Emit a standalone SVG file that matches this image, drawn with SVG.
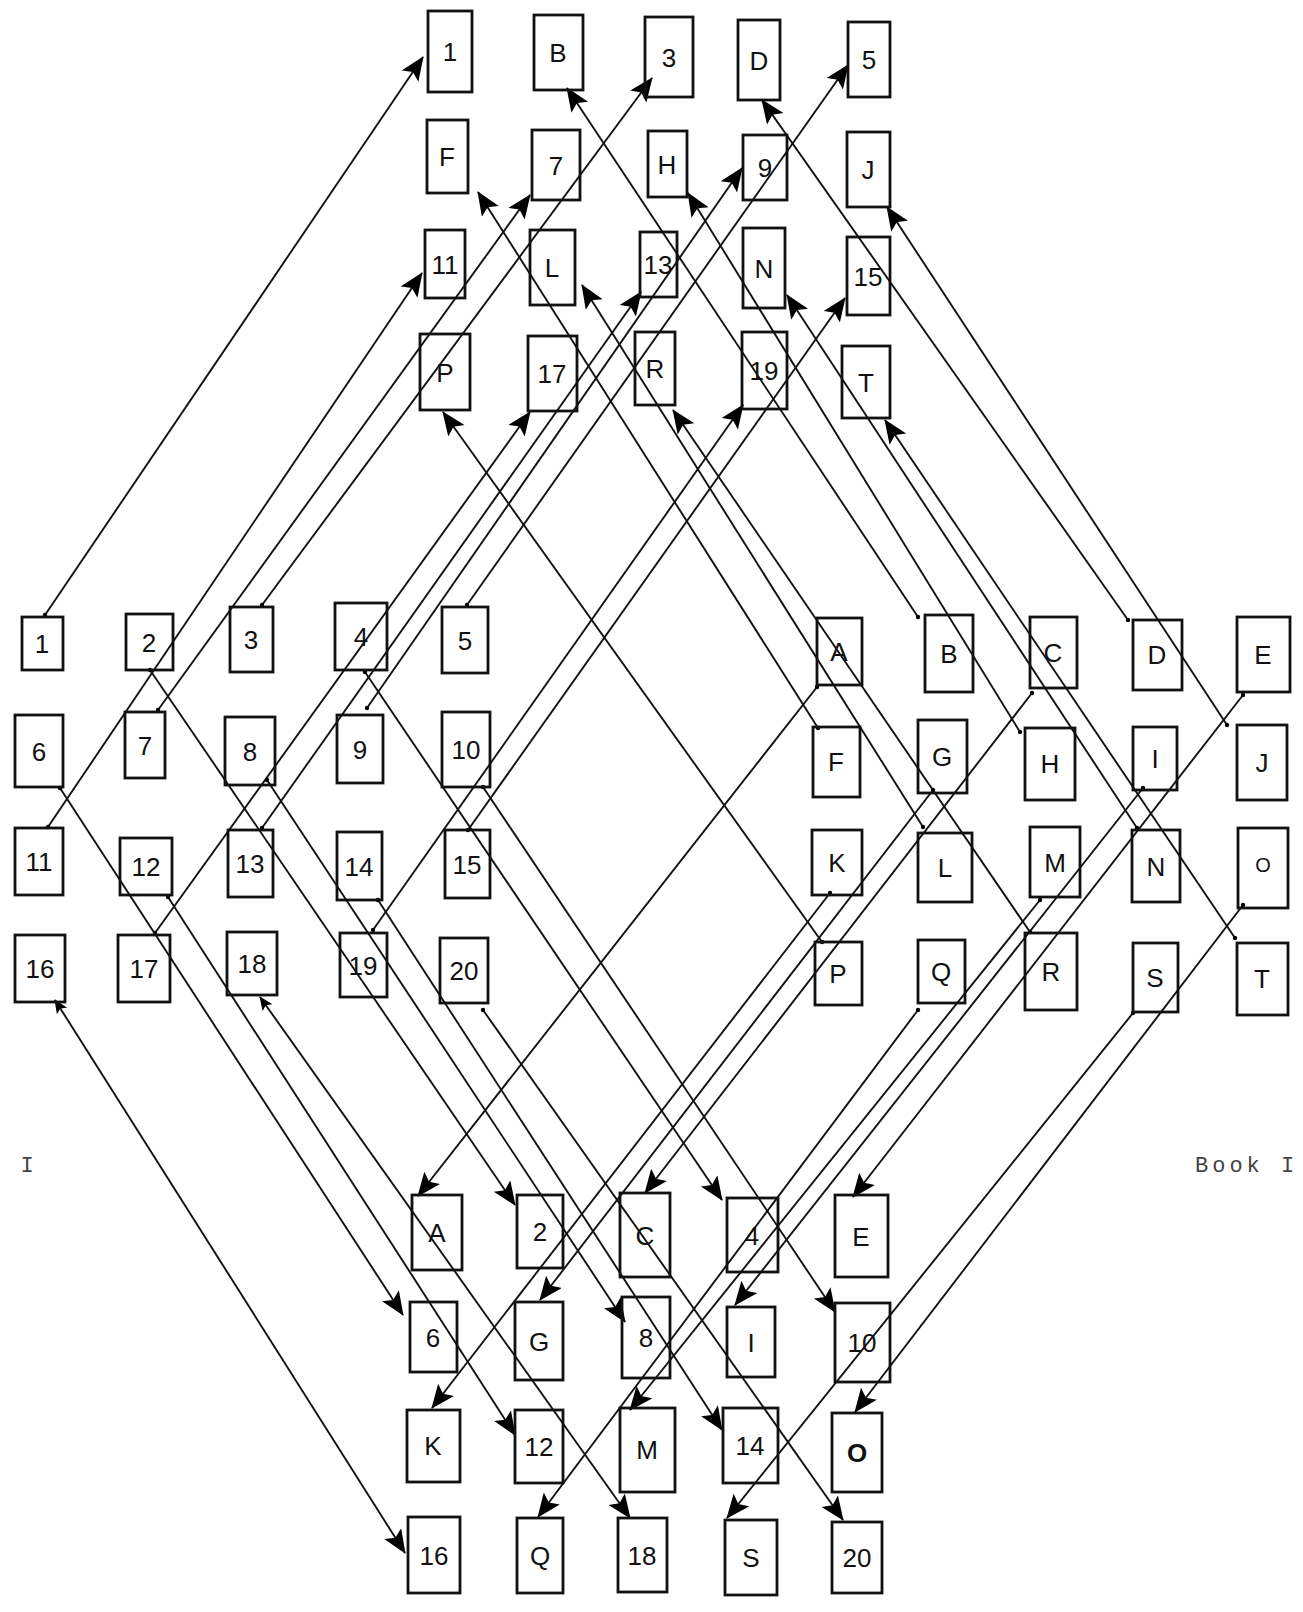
<svg xmlns="http://www.w3.org/2000/svg" width="1303" height="1612" viewBox="0 0 1303 1612">
<style>
.box{fill:none;stroke:#111;stroke-width:2.8;stroke-linejoin:miter}
.lbl{font-family:"Liberation Sans","DejaVu Sans",sans-serif;font-size:26px;fill:#111;text-anchor:middle}
.conn line{stroke:#111;stroke-width:1.9;fill:none;marker-end:url(#ah);marker-start:url(#dot)}
.conn line.bi{marker-start:url(#ahs)}
.cap{font-family:"Courier New","Liberation Mono",monospace;font-size:22px;fill:#444}
</style>
<defs>
<marker id="ah" markerUnits="userSpaceOnUse" markerWidth="28" markerHeight="22" refX="23" refY="10" orient="auto"><path d="M0,0 L24,10 L0,20 L5,10 z" fill="#000"/></marker>
<marker id="ahs" markerUnits="userSpaceOnUse" markerWidth="16" markerHeight="14" refX="13" refY="6" orient="auto-start-reverse"><path d="M0,0 L14,6 L0,12 L3,6 z" fill="#000"/></marker>
<marker id="dot" markerUnits="userSpaceOnUse" markerWidth="6" markerHeight="6" refX="3" refY="3"><circle cx="3" cy="3" r="2.2" fill="#000"/></marker>
</defs>
<rect width="1303" height="1612" fill="#fff"/>

<g id="connectors" class="conn">
<line x1="45" y1="615" x2="423" y2="57"/>
<line x1="262" y1="605" x2="652" y2="78"/>
<line x1="467" y1="605" x2="848" y2="65"/>
<line x1="158" y1="710" x2="530" y2="195"/>
<line x1="367" y1="708" x2="742" y2="168"/>
<line x1="48" y1="827" x2="422" y2="273"/>
<line x1="262" y1="828" x2="641" y2="292"/>
<line x1="468" y1="830" x2="845" y2="298"/>
<line x1="155" y1="933" x2="530" y2="412"/>
<line x1="373" y1="930" x2="743" y2="405"/>
<line x1="918" y1="617" x2="567" y2="88"/>
<line x1="1128" y1="620" x2="762" y2="100"/>
<line x1="818" y1="728" x2="478" y2="192"/>
<line x1="1020" y1="732" x2="688" y2="193"/>
<line x1="1227" y1="725" x2="887" y2="207"/>
<line x1="923" y1="827" x2="582" y2="285"/>
<line x1="1137" y1="828" x2="787" y2="295"/>
<line x1="822" y1="942" x2="443" y2="412"/>
<line x1="1030" y1="932" x2="673" y2="410"/>
<line x1="1235" y1="938" x2="885" y2="420"/>
<line x1="150" y1="670" x2="515" y2="1205"/>
<line x1="365" y1="672" x2="722" y2="1200"/>
<line x1="60" y1="788" x2="403" y2="1315"/>
<line x1="267" y1="780" x2="625" y2="1322"/>
<line x1="483" y1="787" x2="835" y2="1312"/>
<line x1="168" y1="897" x2="515" y2="1435"/>
<line x1="378" y1="900" x2="722" y2="1430"/>
<line class="bi" x1="55" y1="1000" x2="405" y2="1553"/>
<line class="bi" x1="260" y1="997" x2="630" y2="1518"/>
<line x1="483" y1="1010" x2="843" y2="1520"/>
<line x1="817" y1="687" x2="418" y2="1196"/>
<line x1="1032" y1="693" x2="645" y2="1193"/>
<line x1="1243" y1="695" x2="853" y2="1197"/>
<line x1="933" y1="790" x2="540" y2="1300"/>
<line x1="1143" y1="788" x2="735" y2="1305"/>
<line x1="830" y1="893" x2="432" y2="1408"/>
<line x1="1040" y1="900" x2="630" y2="1410"/>
<line x1="1243" y1="905" x2="855" y2="1412"/>
<line x1="918" y1="1010" x2="538" y2="1517"/>
<line x1="1133" y1="1013" x2="727" y2="1518"/>
</g>

<!-- top group -->
<g id="top-1"><rect class="box" x="428" y="11" width="44" height="81"/><text class="lbl" x="450" y="61">1</text></g>
<g id="top-B"><rect class="box" x="534" y="15" width="49" height="75"/><text class="lbl" x="558" y="62">B</text></g>
<g id="top-3"><rect class="box" x="645" y="17" width="48" height="80"/><text class="lbl" x="669" y="67">3</text></g>
<g id="top-D"><rect class="box" x="738" y="20" width="42" height="80"/><text class="lbl" x="759" y="70">D</text></g>
<g id="top-5"><rect class="box" x="848" y="22" width="42" height="75"/><text class="lbl" x="869" y="69">5</text></g>
<g id="top-F"><rect class="box" x="427" y="120" width="41" height="73"/><text class="lbl" x="447" y="166">F</text></g>
<g id="top-7"><rect class="box" x="532" y="130" width="48" height="70"/><text class="lbl" x="556" y="175">7</text></g>
<g id="top-H"><rect class="box" x="648" y="131" width="39" height="66"/><text class="lbl" x="667" y="174">H</text></g>
<g id="top-9"><rect class="box" x="743" y="135" width="44" height="65"/><text class="lbl" x="765" y="177">9</text></g>
<g id="top-J"><rect class="box" x="847" y="132" width="43" height="75"/><text class="lbl" x="868" y="179">J</text></g>
<g id="top-11"><rect class="box" x="425" y="230" width="40" height="68"/><text class="lbl" x="445" y="274">11</text></g>
<g id="top-L"><rect class="box" x="530" y="230" width="45" height="75"/><text class="lbl" x="552" y="277">L</text></g>
<g id="top-13"><rect class="box" x="640" y="232" width="37" height="65"/><text class="lbl" x="658" y="274">13</text></g>
<g id="top-N"><rect class="box" x="743" y="228" width="42" height="80"/><text class="lbl" x="764" y="278">N</text></g>
<g id="top-15"><rect class="box" x="847" y="237" width="43" height="78"/><text class="lbl" x="868" y="286">15</text></g>
<g id="top-P"><rect class="box" x="420" y="334" width="50" height="76"/><text class="lbl" x="445" y="382">P</text></g>
<g id="top-17"><rect class="box" x="528" y="336" width="49" height="75"/><text class="lbl" x="552" y="383">17</text></g>
<g id="top-R"><rect class="box" x="635" y="332" width="40" height="73"/><text class="lbl" x="655" y="378">R</text></g>
<g id="top-19"><rect class="box" x="742" y="332" width="45" height="77"/><text class="lbl" x="764" y="380">19</text></g>
<g id="top-T"><rect class="box" x="842" y="346" width="48" height="72"/><text class="lbl" x="866" y="392">T</text></g>

<!-- left group -->
<g id="left-1"><rect class="box" x="22" y="617" width="41" height="53"/><text class="lbl" x="42" y="653">1</text></g>
<g id="left-2"><rect class="box" x="126" y="614" width="47" height="56"/><text class="lbl" x="149" y="652">2</text></g>
<g id="left-3"><rect class="box" x="230" y="607" width="43" height="65"/><text class="lbl" x="251" y="649">3</text></g>
<g id="left-4"><rect class="box" x="335" y="603" width="52" height="67"/><text class="lbl" x="361" y="646">4</text></g>
<g id="left-5"><rect class="box" x="442" y="607" width="46" height="66"/><text class="lbl" x="465" y="650">5</text></g>
<g id="left-6"><rect class="box" x="15" y="715" width="48" height="72"/><text class="lbl" x="39" y="761">6</text></g>
<g id="left-7"><rect class="box" x="125" y="712" width="40" height="66"/><text class="lbl" x="145" y="755">7</text></g>
<g id="left-8"><rect class="box" x="225" y="717" width="50" height="68"/><text class="lbl" x="250" y="761">8</text></g>
<g id="left-9"><rect class="box" x="337" y="715" width="46" height="68"/><text class="lbl" x="360" y="759">9</text></g>
<g id="left-10"><rect class="box" x="442" y="712" width="48" height="75"/><text class="lbl" x="466" y="759">10</text></g>
<g id="left-11"><rect class="box" x="15" y="828" width="48" height="67"/><text class="lbl" x="39" y="871">11</text></g>
<g id="left-12"><rect class="box" x="120" y="838" width="52" height="57"/><text class="lbl" x="146" y="876">12</text></g>
<g id="left-13"><rect class="box" x="228" y="830" width="45" height="67"/><text class="lbl" x="250" y="873">13</text></g>
<g id="left-14"><rect class="box" x="337" y="832" width="45" height="68"/><text class="lbl" x="359" y="876">14</text></g>
<g id="left-15"><rect class="box" x="445" y="830" width="45" height="68"/><text class="lbl" x="467" y="874">15</text></g>
<g id="left-16"><rect class="box" x="15" y="935" width="50" height="67"/><text class="lbl" x="40" y="978">16</text></g>
<g id="left-17"><rect class="box" x="118" y="935" width="52" height="67"/><text class="lbl" x="144" y="978">17</text></g>
<g id="left-18"><rect class="box" x="227" y="932" width="50" height="63"/><text class="lbl" x="252" y="973">18</text></g>
<g id="left-19"><rect class="box" x="340" y="933" width="47" height="64"/><text class="lbl" x="363" y="975">19</text></g>
<g id="left-20"><rect class="box" x="440" y="938" width="48" height="65"/><text class="lbl" x="464" y="980">20</text></g>

<!-- right group -->
<g id="right-A"><rect class="box" x="817" y="618" width="45" height="67"/><text class="lbl" x="839" y="661">A</text></g>
<g id="right-B"><rect class="box" x="925" y="615" width="48" height="77"/><text class="lbl" x="949" y="663">B</text></g>
<g id="right-C"><rect class="box" x="1030" y="617" width="47" height="71"/><text class="lbl" x="1053" y="662">C</text></g>
<g id="right-D"><rect class="box" x="1133" y="620" width="49" height="70"/><text class="lbl" x="1157" y="664">D</text></g>
<g id="right-E"><rect class="box" x="1237" y="617" width="53" height="75"/><text class="lbl" x="1263" y="664">E</text></g>
<g id="right-F"><rect class="box" x="813" y="727" width="47" height="70"/><text class="lbl" x="836" y="771">F</text></g>
<g id="right-G"><rect class="box" x="918" y="720" width="49" height="73"/><text class="lbl" x="942" y="766">G</text></g>
<g id="right-H"><rect class="box" x="1025" y="728" width="50" height="72"/><text class="lbl" x="1050" y="773">H</text></g>
<g id="right-I"><rect class="box" x="1133" y="727" width="44" height="63"/><text class="lbl" x="1155" y="768">I</text></g>
<g id="right-J"><rect class="box" x="1237" y="725" width="50" height="75"/><text class="lbl" x="1262" y="772">J</text></g>
<g id="right-K"><rect class="box" x="812" y="830" width="50" height="65"/><text class="lbl" x="837" y="872">K</text></g>
<g id="right-L"><rect class="box" x="918" y="833" width="54" height="69"/><text class="lbl" x="945" y="877">L</text></g>
<g id="right-M"><rect class="box" x="1030" y="827" width="50" height="70"/><text class="lbl" x="1055" y="872">M</text></g>
<g id="right-N"><rect class="box" x="1132" y="830" width="48" height="72"/><text class="lbl" x="1156" y="876">N</text></g>
<g id="right-O"><rect class="box" x="1238" y="828" width="50" height="80"/><text class="lbl" x="1263" y="872" style="font-size:20px">O</text></g>
<g id="right-P"><rect class="box" x="815" y="942" width="47" height="63"/><text class="lbl" x="838" y="983">P</text></g>
<g id="right-Q"><rect class="box" x="918" y="940" width="47" height="63"/><text class="lbl" x="941" y="981">Q</text></g>
<g id="right-R"><rect class="box" x="1025" y="933" width="52" height="77"/><text class="lbl" x="1051" y="981">R</text></g>
<g id="right-S"><rect class="box" x="1133" y="943" width="45" height="69"/><text class="lbl" x="1155" y="987">S</text></g>
<g id="right-T"><rect class="box" x="1237" y="943" width="51" height="72"/><text class="lbl" x="1262" y="988">T</text></g>

<!-- bottom group -->
<g id="bottom-A"><rect class="box" x="412" y="1195" width="50" height="75"/><text class="lbl" x="437" y="1242">A</text></g>
<g id="bottom-2"><rect class="box" x="517" y="1195" width="46" height="73"/><text class="lbl" x="540" y="1241">2</text></g>
<g id="bottom-C"><rect class="box" x="620" y="1193" width="50" height="84"/><text class="lbl" x="645" y="1245">C</text></g>
<g id="bottom-4"><rect class="box" x="727" y="1198" width="51" height="74"/><text class="lbl" x="752" y="1245">4</text></g>
<g id="bottom-E"><rect class="box" x="835" y="1195" width="53" height="82"/><text class="lbl" x="861" y="1246">E</text></g>
<g id="bottom-6"><rect class="box" x="410" y="1302" width="47" height="70"/><text class="lbl" x="433" y="1347">6</text></g>
<g id="bottom-G"><rect class="box" x="515" y="1302" width="48" height="78"/><text class="lbl" x="539" y="1351">G</text></g>
<g id="bottom-8"><rect class="box" x="622" y="1297" width="48" height="81"/><text class="lbl" x="646" y="1347">8</text></g>
<g id="bottom-I"><rect class="box" x="727" y="1307" width="48" height="70"/><text class="lbl" x="751" y="1352">I</text></g>
<g id="bottom-10"><rect class="box" x="835" y="1303" width="55" height="79"/><text class="lbl" x="862" y="1352">10</text></g>
<g id="bottom-K"><rect class="box" x="407" y="1410" width="53" height="72"/><text class="lbl" x="433" y="1455">K</text></g>
<g id="bottom-12"><rect class="box" x="515" y="1410" width="48" height="73"/><text class="lbl" x="539" y="1456">12</text></g>
<g id="bottom-M"><rect class="box" x="620" y="1408" width="55" height="84"/><text class="lbl" x="647" y="1459">M</text></g>
<g id="bottom-14"><rect class="box" x="723" y="1408" width="55" height="75"/><text class="lbl" x="750" y="1455">14</text></g>
<g id="bottom-O"><rect class="box" x="832" y="1413" width="50" height="79"/><text class="lbl" x="857" y="1462" style="font-weight:bold">O</text></g>
<g id="bottom-16"><rect class="box" x="408" y="1517" width="52" height="76"/><text class="lbl" x="434" y="1565">16</text></g>
<g id="bottom-Q"><rect class="box" x="517" y="1518" width="46" height="75"/><text class="lbl" x="540" y="1565">Q</text></g>
<g id="bottom-18"><rect class="box" x="618" y="1518" width="49" height="74"/><text class="lbl" x="642" y="1565">18</text></g>
<g id="bottom-S"><rect class="box" x="725" y="1520" width="52" height="75"/><text class="lbl" x="751" y="1567">S</text></g>
<g id="bottom-20"><rect class="box" x="832" y="1522" width="50" height="71"/><text class="lbl" x="857" y="1567">20</text></g>

<text class="cap" x="27" y="1172" text-anchor="middle">I</text>
<text class="cap" x="1195" y="1172" style="letter-spacing:4px">Book I</text>
</svg>
